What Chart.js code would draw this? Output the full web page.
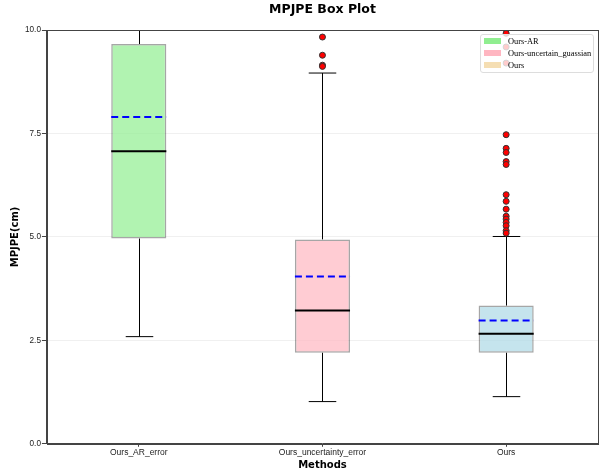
<!DOCTYPE html>
<html>
<head>
<meta charset="utf-8">
<script src="https://cdn.jsdelivr.net/npm/chart.js@4"></script>
<style>
  body { margin: 0; background: #fff; }
  #wrap { position: relative; width: 600px; height: 469px; }
  #legend {
    position: absolute; left: 480px; top: 34px; width: 114px; height: 39px;
    background: rgba(255,255,255,0.8); border: 1px solid #ddd; border-radius: 3px;
    font: 8.4px 'Liberation Serif', serif; color: #000; box-sizing: border-box; padding: 0.5px 0 0 3px;
  }
  #legend div { height: 12.2px; line-height: 12.2px; white-space: nowrap; }
  #legend span { display: inline-block; width: 17px; height: 6px; margin-right: 7px; vertical-align: 0px; }
</style>
</head>
<body>
<div id="wrap">
  <canvas id="boxChart" width="600" height="469"></canvas>
  <div id="legend"></div>
</div>
<script>
// box plot stats
const methods = ['Ours_AR_error', 'Ours_uncertainty_error', 'Ours'];
const q1 = [4.96, 2.20, 2.20];
const q3 = [9.66, 4.94, 3.34];
const medians = [7.07, 3.22, 2.66];
const means = [7.90, 4.04, 2.98];
const whiskerLow = [2.59, 1.02, 1.14];
const whiskerHigh = [10.4, 8.96, 5.01];
const outliers = [
  [],
  [9.83, 9.39, 9.15, 9.12],
  [9.92, 9.59, 9.20, 7.47, 7.14, 7.04, 6.82, 6.75, 6.02, 5.86, 5.67, 5.50, 5.43, 5.35, 5.27, 5.15, 5.09]
];
const yTicks = [0, 2.5, 5, 7.5, 10];

const boxColors = ['rgba(144, 238, 144, 0.7)', 'rgba(255, 182, 193, 0.7)', 'rgba(173, 216, 230, 0.7)'];
const legendLabels = ['Ours-AR', 'Ours-uncertain_guassian', 'Ours'];
const legendColors = ['lightgreen', 'lightpink', 'wheat'];

const outlierPoints = [];
outliers.forEach((vals, i) => vals.forEach(v => outlierPoints.push({ x: methods[i], y: v })));

// whiskers, medians, means and frame drawn from the bar elements + y scale
const boxExtras = {
  id: 'boxExtras',
  beforeDatasetsDraw(chart) {
    const ctx = chart.ctx, y = chart.scales.y, area = chart.chartArea;
    const bars = chart.getDatasetMeta(1).data;
    ctx.save();
    ctx.beginPath();
    ctx.rect(area.left, area.top, area.right - area.left, area.bottom - area.top);
    ctx.clip();
    ctx.strokeStyle = '#000';
    ctx.lineWidth = 1;
    bars.forEach((bar, i) => {
      const x = Math.round(bar.x) + 0.5, half = bar.width / 4;
      const lo = y.getPixelForValue(whiskerLow[i]), hi = y.getPixelForValue(whiskerHigh[i]);
      ctx.beginPath();
      ctx.moveTo(x, lo); ctx.lineTo(x, y.getPixelForValue(q1[i]));
      ctx.moveTo(x, y.getPixelForValue(q3[i])); ctx.lineTo(x, hi);
      ctx.moveTo(x - half, lo); ctx.lineTo(x + half, lo);
      ctx.moveTo(x - half, hi); ctx.lineTo(x + half, hi);
      ctx.stroke();
    });
    ctx.restore();
  },
  afterDatasetDraw(chart, args) {
    if (args.index !== 1) return;
    const ctx = chart.ctx, y = chart.scales.y;
    ctx.save();
    chart.getDatasetMeta(1).data.forEach((bar, i) => {
      const l = bar.x - bar.width / 2, r = bar.x + bar.width / 2;
      ctx.lineWidth = 2;
      ctx.strokeStyle = '#000';
      ctx.setLineDash([]);
      ctx.beginPath();
      ctx.moveTo(l, y.getPixelForValue(medians[i])); ctx.lineTo(r, y.getPixelForValue(medians[i]));
      ctx.stroke();
      ctx.strokeStyle = '#0000ff';
      ctx.setLineDash([7, 4]);
      ctx.beginPath();
      ctx.moveTo(l, y.getPixelForValue(means[i])); ctx.lineTo(r, y.getPixelForValue(means[i]));
      ctx.stroke();
    });
    ctx.restore();
  },
  afterDraw(chart) {
    const ctx = chart.ctx, a = chart.chartArea;
    ctx.save();
    ctx.strokeStyle = '#444';
    ctx.lineWidth = 1;
    ctx.strokeRect(Math.round(a.left) + 0.5, Math.round(a.top) + 0.5, Math.round(a.right - a.left), Math.round(a.bottom - a.top));
    ctx.restore();
  }
};

const ctx = document.getElementById('boxChart');

new Chart(ctx, {
  type: 'bar',
  data: {
    labels: methods,
    datasets: [{
      type: 'scatter',
      data: outlierPoints,
      backgroundColor: '#ff0000',
      borderColor: '#333',
      borderWidth: 1,
      pointRadius: 3
    }, {
      data: q1.map((v, i) => [v, q3[i]]),
      backgroundColor: boxColors,
      borderColor: 'rgba(0, 0, 0, 0.35)',
      borderWidth: 1.5,
      borderSkipped: false,
      barPercentage: 0.3,
      categoryPercentage: 1
    }]
  },
  options: {
    responsive: false,
    animation: false,
    layout: { autoPadding: false, padding: { left: 7, right: 2, top: 0, bottom: -2 } },
    plugins: {
      legend: { display: false },
      tooltip: { enabled: false },
      title: {
        display: true,
        fullSize: false,
        text: 'MPJPE Box Plot',
        color: '#000',
        font: { family: 'DejaVu Sans', size: 12.5, weight: 'bold' },
        padding: { top: 2, bottom: 13 }
      }
    },
    scales: {
      x: {
        grid: { display: true, offset: false, drawOnChartArea: false, tickLength: 3, tickColor: '#444' },
        border: { color: '#444' },
        ticks: { color: '#222', font: { family: 'Liberation Sans', size: 8.5 }, padding: 1 },
        title: { display: true, text: 'Methods', color: '#000', font: { family: 'DejaVu Sans', size: 10, weight: 'bold' }, padding: 0 }
      },
      y: {
        min: 0,
        max: 10,
        afterBuildTicks: axis => { axis.ticks = yTicks.map(v => ({ value: v })); },
        grid: { color: 'rgba(0, 0, 0, 0.06)', tickLength: 5, tickColor: '#444' },
        border: { color: '#444' },
        ticks: { color: '#222', font: { family: 'Liberation Sans', size: 8.2 }, padding: 1, callback: v => v.toFixed(1) },
        title: { display: true, text: 'MPJPE(cm)', color: '#000', font: { family: 'DejaVu Sans', size: 10, weight: 'bold' }, padding: 2.5 }
      }
    }
  },
  plugins: [boxExtras]
});

document.getElementById('legend').innerHTML = legendLabels
  .map((t, i) => '<div><span style="background:' + legendColors[i] + '"></span>' + t + '</div>')
  .join('');
</script>
</body>
</html>
